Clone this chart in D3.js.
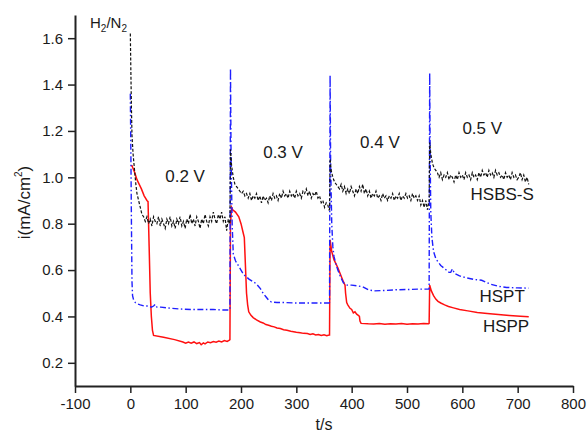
<!DOCTYPE html>
<html>
<head>
<meta charset="utf-8">
<script src="https://cdn.jsdelivr.net/npm/d3@7"></script>
<style>
	body { margin: 0; background: #fff; }
	text { font-family: "Liberation Sans", Arial, sans-serif; fill: #1a1a1a; }
</style>
</head>
<body>
<div id="chart"></div>
<script>
// ticks
const xMajorTicks = [-100, 0, 100, 200, 300, 400, 500, 600, 700, 800];
const xMinorTicks = [-50, 50, 150, 250, 350, 450, 550, 650, 750];
const yMajorTicks = [0.2, 0.4, 0.6, 0.8, 1.0, 1.2, 1.4, 1.6];
const yMinorTicks = [0.3, 0.5, 0.7, 0.9, 1.1, 1.3, 1.5, 1.7];

// HSBS-S, black dashed  [t (s), i (mA/cm2)]
const hsbsS = [
	[0,1.62],[1,1.45],[2,1.30],[3,1.18],[5,1.10],[8,1.02],[10,0.97],[12,0.93],[15,0.90],[18,0.87],[21,0.84],[24,0.83],
	[27,0.81],[30,0.83],[33,0.80],[36,0.82],[39,0.79],[42,0.83],[45,0.81],[48,0.80],[51,0.83],[54,0.79],[57,0.82],[60,0.80],
	[63,0.78],[66,0.82],[69,0.80],[72,0.83],[75,0.79],[78,0.81],[81,0.78],[84,0.82],[87,0.80],[90,0.83],[93,0.79],[96,0.81],
	[99,0.78],[102,0.82],[105,0.80],[108,0.84],[111,0.80],[114,0.82],[117,0.79],[120,0.83],[123,0.81],[126,0.78],[129,0.82],
	[132,0.80],[135,0.84],[138,0.81],[141,0.79],[144,0.83],[147,0.81],[150,0.85],[153,0.82],[156,0.80],[159,0.84],[162,0.82],
	[165,0.85],[168,0.81],[171,0.83],[174,0.77],[177,0.82],[179,0.80],
	[180,0.80],[181,1.12],[183,1.05],[186,1.00],[189,0.97],[192,0.96],[195,0.95],[198,0.94],[201,0.93],[204,0.94],[207,0.92],
	[210,0.93],[213,0.91],[216,0.93],[219,0.90],[222,0.92],[225,0.91],[228,0.93],[231,0.90],[234,0.92],[237,0.89],[240,0.92],
	[243,0.90],[246,0.91],[249,0.89],[252,0.92],[255,0.90],[258,0.93],[261,0.91],[264,0.92],[267,0.90],[270,0.93],[273,0.91],
	[276,0.94],[279,0.92],[282,0.93],[285,0.91],[288,0.94],[291,0.92],[294,0.93],[297,0.91],[300,0.94],[303,0.92],[306,0.93],
	[309,0.91],[312,0.94],[315,0.93],[318,0.95],[321,0.92],[324,0.94],[327,0.91],[330,0.93],[333,0.92],[336,0.94],[339,0.91],
	[342,0.92],[345,0.89],[348,0.90],[351,0.87],[354,0.89],[357,0.88],[359,0.86],
	[360,0.86],[361,1.08],[363,1.03],[366,1.00],[369,0.98],[372,0.97],[375,0.96],[378,0.95],[381,0.97],[384,0.94],[387,0.96],
	[390,0.93],[393,0.95],[396,0.93],[399,0.96],[402,0.94],[405,0.92],[408,0.95],[411,0.93],[414,0.96],[417,0.94],[420,0.97],
	[423,0.93],[426,0.95],[429,0.92],[432,0.94],[435,0.91],[438,0.93],[441,0.92],[444,0.94],[447,0.91],[450,0.92],[453,0.90],
	[456,0.93],[459,0.91],[462,0.92],[465,0.90],[468,0.92],[471,0.91],[474,0.93],[477,0.90],[480,0.92],[483,0.91],[486,0.93],
	[489,0.90],[492,0.92],[495,0.91],[498,0.93],[501,0.91],[504,0.92],[507,0.90],[510,0.93],[513,0.91],[516,0.92],[519,0.90],
	[522,0.92],[525,0.88],[528,0.90],[531,0.87],[534,0.90],[537,0.86],[539,0.89],
	[540,0.89],[541,1.15],[543,1.10],[546,1.06],[549,1.04],[552,1.03],[555,1.02],[558,1.00],[561,1.02],[564,0.99],[567,1.01],
	[570,1.00],[573,1.02],[576,0.99],[579,1.01],[582,1.00],[585,0.98],[588,1.01],[591,0.99],[594,1.02],[597,1.00],[600,1.01],
	[603,0.99],[606,1.02],[609,1.00],[612,1.01],[615,0.99],[618,1.02],[621,1.00],[624,1.01],[627,0.99],[630,1.02],[633,1.00],
	[636,1.03],[639,1.01],[642,1.02],[645,1.00],[648,1.03],[651,1.01],[654,1.02],[657,1.00],[660,1.03],[663,1.01],[666,1.02],
	[669,1.00],[672,1.01],[675,0.99],[678,1.02],[681,1.00],[684,1.01],[687,0.99],[690,1.02],[693,1.00],[696,1.01],[699,0.99],
	[702,1.00],[705,1.02],[708,0.99],[711,1.01],[714,0.98],[717,1.00],[720,0.97]
];

// HSPT, blue dash-dot
const hspt = [
	[0,1.36],[1,1.10],[2,0.80],[3,0.55],[4,0.49],[6,0.47],[9,0.46],[12,0.455],[18,0.45],[25,0.445],[33,0.445],[38,0.44],
	[42,0.445],[45,0.452],[48,0.44],[55,0.44],[65,0.437],[75,0.435],[90,0.432],[110,0.43],[130,0.43],[150,0.43],[165,0.428],[179,0.428],
	[180,0.43],[181,1.47],[182,1.10],[184,0.80],[186,0.67],[190,0.64],[195,0.62],[200,0.60],[205,0.58],[210,0.57],[215,0.56],
	[222,0.55],[228,0.54],[235,0.52],[240,0.50],[245,0.485],[250,0.47],[255,0.462],[265,0.46],[280,0.46],[300,0.458],[320,0.458],
	[340,0.458],[359,0.458],
	[360,0.46],[361,1.44],[362,1.05],[364,0.80],[366,0.70],[368,0.66],[371,0.63],[375,0.60],[380,0.57],[385,0.545],[392,0.535],
	[400,0.535],[410,0.532],[420,0.528],[430,0.515],[440,0.51],[460,0.512],[480,0.515],[500,0.516],[520,0.518],[539,0.518],
	[540,0.52],[541,1.45],[542,1.05],[543,0.85],[545,0.74],[548,0.68],[552,0.65],[556,0.635],[561,0.62],[566,0.61],[571,0.60],
	[576,0.59],[579,0.59],[582,0.605],[586,0.585],[595,0.575],[605,0.568],[620,0.56],[635,0.556],[650,0.54],[665,0.53],
	[680,0.525],[700,0.523],[720,0.522]
];

// HSPP, red solid
const hspp = [
	[1,1.05],[3,1.05],[8,1.02],[12,0.99],[15,0.975],[20,0.95],[25,0.92],[30,0.90],[32,0.895],[34,0.70],[36,0.50],[38,0.40],
	[40,0.34],[42,0.318],[60,0.31],[80,0.30],[95,0.29],[100,0.285],[105,0.29],[110,0.285],[115,0.29],[120,0.283],[125,0.287],
	[128,0.278],[132,0.286],[135,0.282],[140,0.29],[145,0.287],[150,0.292],[155,0.289],[160,0.294],[165,0.29],[170,0.296],
	[175,0.292],[179,0.298],
	[180,0.30],[181,0.80],[183,0.87],[185,0.86],[190,0.85],[196,0.83],[200,0.80],[204,0.76],[206,0.74],[208,0.62],[210,0.50],
	[212,0.45],[214,0.42],[218,0.405],[222,0.395],[228,0.385],[235,0.376],[240,0.372],[245,0.365],[250,0.362],[255,0.358],
	[260,0.355],[265,0.35],[271,0.348],[277,0.343],[283,0.34],[290,0.336],[295,0.334],[300,0.332],[307,0.33],[313,0.327],
	[320,0.326],[325,0.322],[330,0.325],[335,0.32],[340,0.322],[345,0.318],[350,0.321],[355,0.317],[359,0.32],
	[360,0.32],[361,0.73],[364,0.68],[368,0.645],[371,0.63],[375,0.61],[380,0.58],[385,0.55],[388,0.535],[389,0.50],[391,0.46],
	[393,0.45],[397,0.435],[400,0.43],[403,0.415],[406,0.42],[409,0.41],[412,0.405],[414,0.40],[415,0.38],[417,0.37],
	[430,0.368],[440,0.367],[450,0.369],[460,0.366],[470,0.368],[480,0.367],[490,0.369],[500,0.366],[510,0.368],[520,0.367],
	[530,0.369],[539,0.368],
	[540,0.37],[541,0.535],[544,0.51],[548,0.49],[552,0.475],[556,0.465],[561,0.458],[568,0.45],[575,0.443],[584,0.437],
	[595,0.43],[610,0.424],[627,0.417],[645,0.413],[665,0.408],[685,0.404],[705,0.401],[720,0.399]
];

// text annotations: label, t, i
const voltageLabels = [["0.2 V", 99, 0.98], ["0.3 V", 276, 1.083], ["0.4 V", 451, 1.126], ["0.5 V", 636, 1.187]];
const seriesLabels = [["HSBS-S", 672, 0.902], ["HSPT", 672, 0.462], ["HSPP", 679, 0.333]];

(function (d3) {
	"use strict";
	const width = 587, height = 435;
	const margin = { top: 15, right: 14, bottom: 49, left: 75 };

	const svg = d3.select("#chart").append("svg")
		.attr("width", width)
		.attr("height", height)
		.style("background", "#fff");

	const x = d3.scaleLinear().domain([-100, 800]).range([margin.left, width - margin.right]);
	const y = d3.scaleLinear().domain([0.1, 1.7]).range([height - margin.bottom, margin.top]);

	/*** axes ***/
	const xAxisG = svg.append("g").attr("transform", "translate(0," + y.range()[0] + ")");
	xAxisG.call(d3.axisBottom(x).tickValues(xMinorTicks).tickSize(4).tickSizeOuter(0).tickFormat(""));
	// plain hyphen for negatives, like the original
	xAxisG.call(d3.axisBottom(x).tickValues(xMajorTicks).tickSize(7).tickSizeOuter(0).tickPadding(5)
		.tickFormat(d => String(d)));

	const yAxisG = svg.append("g").attr("transform", "translate(" + x.range()[0] + ",0)");
	yAxisG.call(d3.axisLeft(y).tickValues(yMinorTicks).tickSize(4).tickSizeOuter(0).tickFormat(""));
	yAxisG.call(d3.axisLeft(y).tickValues(yMajorTicks).tickSize(7).tickSizeOuter(0).tickPadding(5).tickFormat(d3.format(".1f")));

	svg.selectAll(".domain").attr("stroke", "#222").attr("stroke-width", 2);
	svg.selectAll(".tick line").attr("stroke", "#222").attr("stroke-width", 1.5);
	svg.selectAll(".tick text").attr("font-size", 15).attr("fill", "#1a1a1a")
		.attr("font-family", "'Liberation Sans', Arial, sans-serif");

	/*** series ***/
	const line = d3.line().x(d => x(d[0])).y(d => y(d[1]));

	svg.append("path").datum(hspp)
		.attr("fill", "none").attr("stroke", "#ff1010").attr("stroke-width", 1.5)
		.attr("d", line);
	svg.append("path").datum(hspt)
		.attr("fill", "none").attr("stroke", "#1f1fff").attr("stroke-width", 1.4)
		.attr("stroke-dasharray", "6,2.5,1.5,2.5")
		.attr("d", line);
	svg.append("path").datum(hsbsS)
		.attr("fill", "none").attr("stroke", "#111").attr("stroke-width", 1.2)
		.attr("stroke-dasharray", "3,1.8")
		.attr("d", line);

	/*** labels ***/
	svg.append("g").selectAll("text").data(voltageLabels.concat(seriesLabels)).enter()
		.append("text")
		.attr("x", d => x(d[1]))
		.attr("y", d => y(d[2]))
		.attr("text-anchor", "middle")
		.attr("font-size", 17)
		.text(d => d[0]);

	// H2/N2 with subscripts
	const gas = svg.append("text").attr("x", 90).attr("y", 28).attr("font-size", 15);
	gas.append("tspan").text("H");
	gas.append("tspan").attr("font-size", 10).attr("dy", 4).text("2");
	gas.append("tspan").attr("dy", -4).text("/N");
	gas.append("tspan").attr("font-size", 10).attr("dy", 4).text("2");

	// axis titles
	svg.append("text")
		.attr("x", x(350)).attr("y", 430)
		.attr("text-anchor", "middle")
		.attr("font-size", 16)
		.text("t/s");

	const yTitle = svg.append("text")
		.attr("transform", "translate(30," + (y(0.9) + 2) + ") rotate(-90)")
		.attr("text-anchor", "middle")
		.attr("font-size", 17);
	yTitle.append("tspan").text("i(mA/cm");
	yTitle.append("tspan").attr("font-size", 10).attr("dy", -8).text("2");
	yTitle.append("tspan").attr("dy", 8).text(")");
})(d3);
</script>
</body>
</html>
